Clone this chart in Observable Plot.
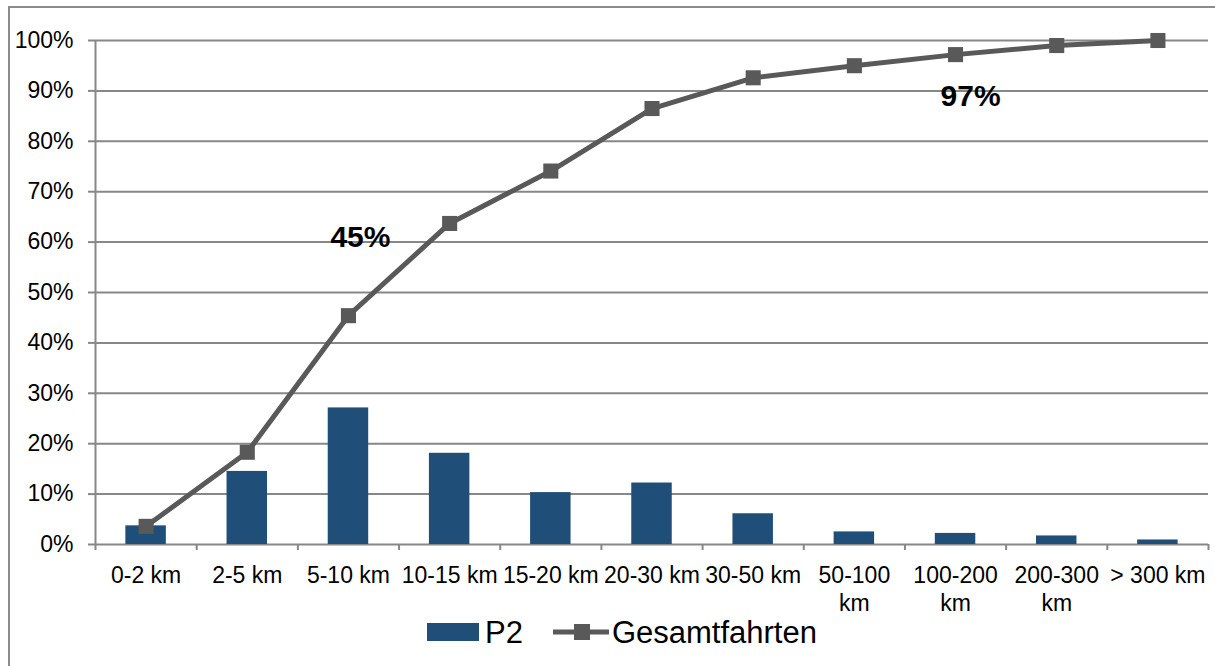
<!DOCTYPE html>
<html>
<head>
<meta charset="utf-8">
<script src="https://cdn.jsdelivr.net/npm/d3@7"></script>
<script src="https://cdn.jsdelivr.net/npm/@observablehq/plot@0.6"></script>
<style>
  body { margin: 0; background: #fff; font-family: "Liberation Sans", Arial, sans-serif; }
  #wrap { position: relative; width: 1215px; height: 666px; overflow: hidden; background: #fff; }
  #frame { position: absolute; left: 8px; top: 6px; width: 1400px; height: 800px;
           border-top: 2px solid #8c8c8c; border-left: 2px solid #8c8c8c; }
  #chart { position: absolute; left: 0; top: 0; }
  #legend { position: absolute; left: 427px; top: 612px; height: 40px; display: flex; align-items: center;
            font-size: 31px; color: #000; line-height: 1; }
  #legend .sw { width: 52px; height: 18px; background: #1F4E79; margin-right: 6px; }
  #legend .ln { margin-left: 30px; margin-right: 3px; }
</style>
</head>
<body>
<div id="wrap">
  <div id="frame"></div>
  <div id="chart"></div>
  <div id="legend">
    <div class="sw"></div><span>P2</span>
    <svg class="ln" width="56" height="20" viewBox="0 0 56 20">
      <line x1="0" y1="10" x2="56" y2="10" stroke="#595959" stroke-width="5" stroke-linecap="round"/>
      <rect x="21" y="2" width="16" height="16" fill="#595959"/>
    </svg>
    <span>Gesamtfahrten</span>
  </div>
</div>
<script>
// Distance classes of trips
const categories = ["0-2 km", "2-5 km", "5-10 km", "10-15 km", "15-20 km", "20-30 km",
                    "30-50 km", "50-100 km", "100-200 km", "200-300 km", "> 300 km"];
// Axis labels as printed (long ones wrap onto a second line)
const tickLabels = ["0-2 km", "2-5 km", "5-10 km", "10-15 km", "15-20 km", "20-30 km",
                    "30-50 km", "50-100\nkm", "100-200\nkm", "200-300\nkm", "> 300 km"];
// Share of P2 trips per distance class (%)
const p2Share = [3.7, 14.5, 27.1, 18.1, 10.3, 12.2, 6.1, 2.5, 2.2, 1.7, 0.9];
// Cumulative share of all trips (%)
const gesamtCumulative = [3.6, 18.3, 45.4, 63.7, 74.1, 86.5, 92.6, 95.0, 97.2, 99.0, 100];
// Percentage ticks
const yTicks = [0, 10, 20, 30, 40, 50, 60, 70, 80, 90, 100];

const table = categories.map((c, i) => ({
  cat: c, label: tickLabels[i], i, p2: p2Share[i], total: gesamtCumulative[i]
}));

const grid = "#878787";
const mid = d => d.i + 0.5;
const pct = d => `${Math.round(d.total)}%`;

const chart = Plot.plot({
  width: 1215,
  height: 618,
  marginLeft: 95,
  marginRight: 7,
  marginTop: 40,
  marginBottom: 74,
  style: { fontFamily: "'Liberation Sans', Arial, sans-serif", fontSize: "23px", background: "transparent", color: "#000" },
  x: { domain: [0, categories.length], axis: null },
  y: { domain: [0, 100], axis: null },
  marks: [
    Plot.ruleY(yTicks, { stroke: grid, strokeWidth: 2 }),
    Plot.axisY({ ticks: yTicks, tickFormat: d => `${d}%`, tickSize: 7, tickPadding: 15,
                 stroke: grid, strokeWidth: 2, fill: "#000", fontSize: 23, label: null }),
    Plot.axisX({ ticks: d3.range(categories.length + 1), tickFormat: () => "", tickSize: 6,
                 stroke: grid, strokeWidth: 2, label: null }),
    Plot.ruleX([0], { y1: 0, y2: 100, stroke: grid, strokeWidth: 2 }),
    Plot.rectY(table, { x1: d => d.i + 0.3, x2: d => d.i + 0.7, y: "p2", fill: "#1F4E79" }),
    Plot.line(table, { x: mid, y: "total", stroke: "#595959", strokeWidth: 5 }),
    Plot.dot(table, { x: mid, y: "total", symbol: "square", r: 8.5, fill: "#595959" }),
    Plot.text(table, { x: mid, y: () => 0, text: "label", dy: 19, lineAnchor: "top",
                       lineHeight: 1.2, fontSize: 23, fill: "#000" }),
    Plot.text(table.filter(d => d.cat === "5-10 km"), { x: mid, y: "total", text: pct,
                       dx: 12, dy: -78, fontSize: 30, fontWeight: "bold", fill: "#000" }),
    Plot.text(table.filter(d => d.cat === "100-200 km"), { x: mid, y: "total", text: pct,
                       dx: 15, dy: 42, fontSize: 30, fontWeight: "bold", fill: "#000" })
  ]
});
document.getElementById("chart").appendChild(chart);
</script>
</body>
</html>
